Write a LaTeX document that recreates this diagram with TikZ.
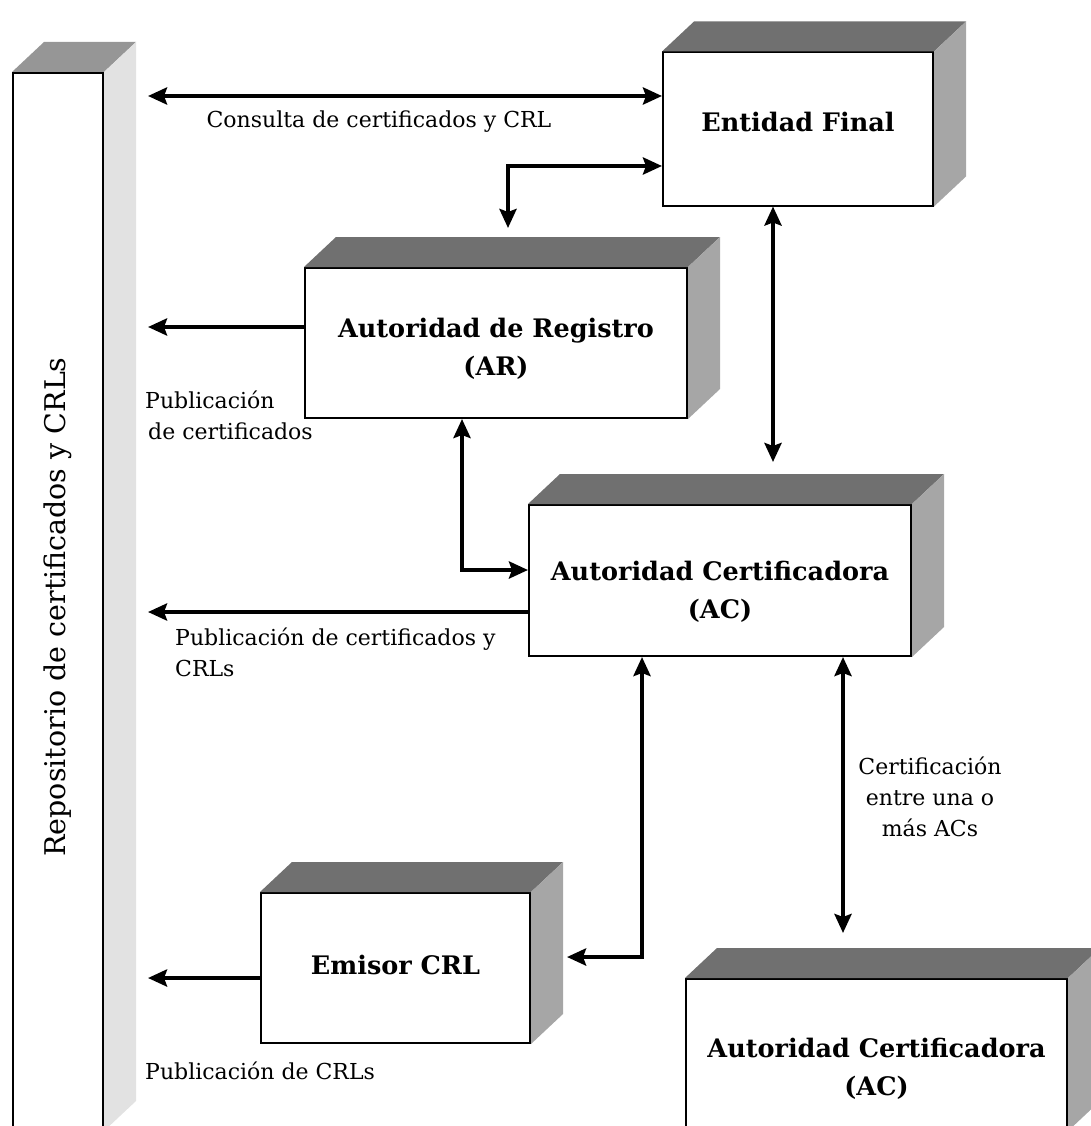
\documentclass[tikz,border=0pt]{standalone}
\usepackage{fontspec}
\setmainfont{DejaVu Serif}
\usetikzlibrary{arrows.meta}

\definecolor{topgray}{HTML}{707070}
\definecolor{sidegray}{HTML}{A6A6A6}
\definecolor{repotop}{HTML}{969696}
\definecolor{reposide}{HTML}{E2E2E2}

\begin{document}
\begin{tikzpicture}[x=1pt,y=-1pt,
  frontbox/.style={draw=black, line width=2pt, fill=white, inner sep=0pt},
  boxtext/.style={font=\fontsize{25.5}{38}\selectfont\bfseries, align=center, inner sep=0pt},
  lbl/.style={font=\fontsize{22}{31}\selectfont, inner sep=0pt},
  arr/.style={line width=4.2pt, >={Stealth[length=19pt,width=17pt,inset=3pt]}}
]
\useasboundingbox (0,0) rectangle (1091,1126);

% 3D block: front face is the node, top and right faces drawn beside it
\newcommand{\blockfaces}[3]{%
  \fill[#2] (#1.north west) -- ++(32,-30) -- ([shift={(32,-30)}]#1.north east) -- (#1.north east) -- cycle;
  \fill[#3] (#1.north east) -- ++(32,-30) -- ([shift={(32,-30)}]#1.south east) -- (#1.south east) -- cycle;
}

% repository column
\node[frontbox, minimum width=90pt, minimum height=1057pt] (repo) at (58,601.5) {};
\blockfaces{repo}{repotop}{reposide}
\node[font=\fontsize{28.5}{34}\selectfont, rotate=90, inner sep=0pt] (repotext) at (58,607) {Repositorio de certificados y CRLs};

% Entidad Final
\node[frontbox, minimum width=270pt, minimum height=153pt] (ef) at (798,129) {};
\blockfaces{ef}{topgray}{sidegray}
\node[boxtext] (eftext) at (798,122) {Entidad Final};

% Autoridad de Registro
\node[frontbox, minimum width=382pt, minimum height=150pt] (ar) at (496,343) {};
\blockfaces{ar}{topgray}{sidegray}
\node[boxtext] (artext) at (496,349) {Autoridad de Registro\\(AR)};

% Autoridad Certificadora
\node[frontbox, minimum width=382pt, minimum height=151pt] (ac) at (720,580.5) {};
\blockfaces{ac}{topgray}{sidegray}
\node[boxtext] (actext) at (720,592) {Autoridad Certificadora\\(AC)};

% Emisor CRL
\node[frontbox, minimum width=269pt, minimum height=150pt] (em) at (395.5,968) {};
\blockfaces{em}{topgray}{sidegray}
\node[boxtext] (emtext) at (395.5,965) {Emisor CRL};

% second Autoridad Certificadora
\node[frontbox, minimum width=381pt, minimum height=151pt] (ac2) at (876.5,1054.5) {};
\blockfaces{ac2}{topgray}{sidegray}
\node[boxtext] (ac2text) at (876.5,1069) {Autoridad Certificadora\\(AC)};

% free ends of the connectors
\coordinate (q1) at (148,96);
\coordinate (k1) at (508,166);
\coordinate (t1) at (508,228);
\coordinate (q2) at (148,327);
\coordinate (k2) at (462,570);
\coordinate (q3) at (148,612);
\coordinate (t2) at (773,462);
\coordinate (k3) at (642,957);
\coordinate (t3) at (567,957);
\coordinate (t4) at (843,933);
\coordinate (q4) at (148,978);

% connectors
\draw[arr, <->] (q1) -- (q1 -| ef.west);
\draw[arr, <->] (t1) -- (k1) -- (k1 -| ef.west);
\draw[arr, ->] (q2 -| ar.west) -- (q2);
\draw[arr, <->] (k2 |- ar.south) -- (k2) -- (k2 -| ac.west);
\draw[arr, ->] (q3 -| ac.west) -- (q3);
\draw[arr, <->] (t2 |- ef.south) -- (t2);
\draw[arr, <->] (k3 |- ac.south) -- (k3) -- (t3);
\draw[arr, <->] (t4 |- ac.south) -- (t4);
\draw[arr, ->] (q4 -| em.west) -- (q4);

% connector labels
\node[lbl] (l1) at (379,122) {Consulta de certificados y CRL};
\node[lbl, anchor=west, align=left] (l2) at (145,415) {Publicación\\\hspace*{3pt}de certificados};
\node[lbl, anchor=west, align=left] (l3) at (175,652) {Publicación de certificados y\\CRLs};
\node[lbl, align=center] (l4) at (930,797) {Certificación\\entre una o\\más ACs};
\node[lbl, anchor=west] (l5) at (145,1071) {Publicación de CRLs};
\end{tikzpicture}
\end{document}
